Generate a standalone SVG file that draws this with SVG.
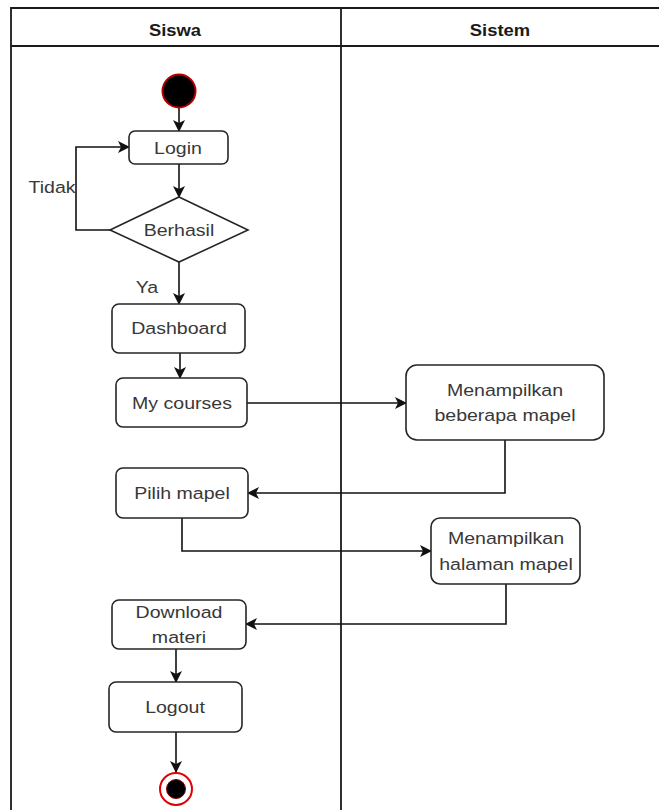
<svg xmlns="http://www.w3.org/2000/svg" width="659" height="810" viewBox="0 0 659 810">
  <style>
    .lane { fill: none; stroke: #1a1a1a; stroke-width: 1.8; }
    .node { fill: #ffffff; stroke: #262626; stroke-width: 1.6; }
    .edge { fill: none; stroke: #111111; stroke-width: 1.6; }
    .lbl { font-family: "Liberation Sans", Arial, sans-serif; font-size: 17px; fill: #383838; text-anchor: middle; }
    .hdr { font-family: "Liberation Sans", Arial, sans-serif; font-size: 16px; font-weight: bold; fill: #1a1a1a; text-anchor: middle; }
  </style>
  <defs>
    <marker id="arrow" viewBox="0 0 12 12" refX="11" refY="6" markerWidth="12" markerHeight="12" markerUnits="userSpaceOnUse" orient="auto">
      <path d="M0,0 L12,6 L0,12 L3,6 z" fill="#111111"/>
    </marker>
  </defs>

  <rect width="659" height="810" fill="#ffffff"/>

  <!-- swimlanes -->
  <g id="lanes">
    <path class="lane" d="M11,810 V8 H659 M11,46 H659 M341,8 V810"/>
    <text class="hdr" transform="translate(175,36) scale(1.15,1)">Siswa</text>
    <text class="hdr" transform="translate(500,36) scale(1.15,1)">Sistem</text>
  </g>

  <!-- connectors -->
  <g id="connectors">
    <path class="edge" d="M179,108 V131" marker-end="url(#arrow)"/>
    <path class="edge" d="M179,164 V197" marker-end="url(#arrow)"/>
    <path class="edge" d="M110,230 H76 V147 H129" marker-end="url(#arrow)"/>
    <path class="edge" d="M179,262 V304" marker-end="url(#arrow)"/>
    <path class="edge" d="M180,353 V378" marker-end="url(#arrow)"/>
    <path class="edge" d="M247,403 H406" marker-end="url(#arrow)"/>
    <path class="edge" d="M505,440 V493 H248" marker-end="url(#arrow)"/>
    <path class="edge" d="M182,518 V551 H431" marker-end="url(#arrow)"/>
    <path class="edge" d="M506,584 V624 H246" marker-end="url(#arrow)"/>
    <path class="edge" d="M176,649 V682" marker-end="url(#arrow)"/>
    <path class="edge" d="M176,732 V772" marker-end="url(#arrow)"/>
    <text class="lbl" transform="translate(52,193) scale(1.15,1)">Tidak</text>
    <text class="lbl" transform="translate(147,293) scale(1.15,1)">Ya</text>
  </g>

  <!-- nodes -->
  <g id="start">
    <circle cx="179" cy="91" r="16.5" fill="#000000" stroke="#b30000" stroke-width="2"/>
  </g>
  <g id="login">
    <rect class="node" x="129" y="131" width="99" height="33" rx="6"/>
    <text class="lbl" transform="translate(178,154) scale(1.15,1)">Login</text>
  </g>
  <g id="berhasil">
    <polygon class="node" points="179,197 248,230 179,262 110,230"/>
    <text class="lbl" transform="translate(179,236) scale(1.15,1)">Berhasil</text>
  </g>
  <g id="dashboard">
    <rect class="node" x="112" y="304" width="133" height="49" rx="7"/>
    <text class="lbl" transform="translate(179,334) scale(1.15,1)">Dashboard</text>
  </g>
  <g id="my-courses">
    <rect class="node" x="116" y="378" width="131" height="49" rx="7"/>
    <text class="lbl" transform="translate(182,409) scale(1.15,1)">My courses</text>
  </g>
  <g id="tampil-mapel">
    <rect class="node" x="406" y="365" width="198" height="75" rx="11"/>
    <text class="lbl" transform="translate(505,396) scale(1.15,1)">Menampilkan</text>
    <text class="lbl" transform="translate(505,421) scale(1.15,1)">beberapa mapel</text>
  </g>
  <g id="pilih-mapel">
    <rect class="node" x="116" y="468" width="132" height="50" rx="7"/>
    <text class="lbl" transform="translate(182,499) scale(1.15,1)">Pilih mapel</text>
  </g>
  <g id="tampil-halaman">
    <rect class="node" x="431" y="518" width="149" height="66" rx="9"/>
    <text class="lbl" transform="translate(506,544) scale(1.15,1)">Menampilkan</text>
    <text class="lbl" transform="translate(506,570) scale(1.15,1)">halaman mapel</text>
  </g>
  <g id="download">
    <rect class="node" x="112" y="600" width="134" height="49" rx="7"/>
    <text class="lbl" transform="translate(179,618) scale(1.15,1)">Download</text>
    <text class="lbl" transform="translate(179,643) scale(1.15,1)">materi</text>
  </g>
  <g id="logout">
    <rect class="node" x="109" y="682" width="133" height="50" rx="7"/>
    <text class="lbl" transform="translate(175,713) scale(1.15,1)">Logout</text>
  </g>
  <g id="end">
    <circle cx="176" cy="789" r="16" fill="#ffffff" stroke="#e00000" stroke-width="2"/>
    <circle cx="176" cy="789" r="9.5" fill="#000000" stroke="#8a0000" stroke-width="1"/>
  </g>
</svg>
